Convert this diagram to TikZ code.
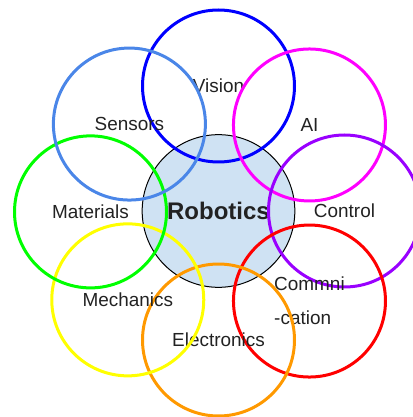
\documentclass[tikz,border=0pt]{standalone}
\usepackage{fontspec}
\setmainfont{Liberation Sans}
\usepackage{xcolor}
\definecolor{hubfill}{HTML}{CFE2F3}
\definecolor{txtgray}{HTML}{222222}
\definecolor{pureblue}{HTML}{0000FF}
\definecolor{puremagenta}{HTML}{FF00FF}
\definecolor{violet}{HTML}{9900FF}
\definecolor{purered}{HTML}{FF0000}
\definecolor{amber}{HTML}{FF9900}
\definecolor{pureyellow}{HTML}{FFFF00}
\definecolor{puregreen}{HTML}{00FF00}
\definecolor{cornflower}{HTML}{4A86E8}

\tikzset{
  ring/.style={circle,draw=#1,line width=2.25pt,minimum size=114pt,inner sep=0pt,
    text=txtgray,font=\fontsize{14.2}{17}\selectfont},
  hub/.style={circle,draw=black,line width=0.75pt,fill=hubfill,minimum size=114.5pt,
    inner sep=0pt,text=txtgray,font=\fontsize{18}{21}\selectfont\bfseries}
}

\begin{document}
\begin{tikzpicture}[line cap=round,line join=round,x=0.75pt,y=0.75pt]
\useasboundingbox (-218.5,-206) rectangle (193.5,211);
\node [hub] (robotics) at (0,0) {Robotics};
%
\node [ring=pureblue] (vision) at (90:125) {Vision};
\node [ring=puremagenta] (ai) at (43.4:125.2) {AI};
\node [ring=violet] (control) at (0:126) {Control};
\node [ring=purered,align=left] (comm) at (-44.7:128) {Commni\\[8.5pt]-cation};
\node [ring=amber] (electronics) at (-90:129) {Electronics};
\node [ring=pureyellow] (mechanics) at (-135.6:127) {Mechanics};
\node [ring=puregreen] (materials) at (180.4:128) {Materials};
\node [ring=cornflower] (sensors) at (135.7:124.5) {Sensors};
\end{tikzpicture}
\end{document}
